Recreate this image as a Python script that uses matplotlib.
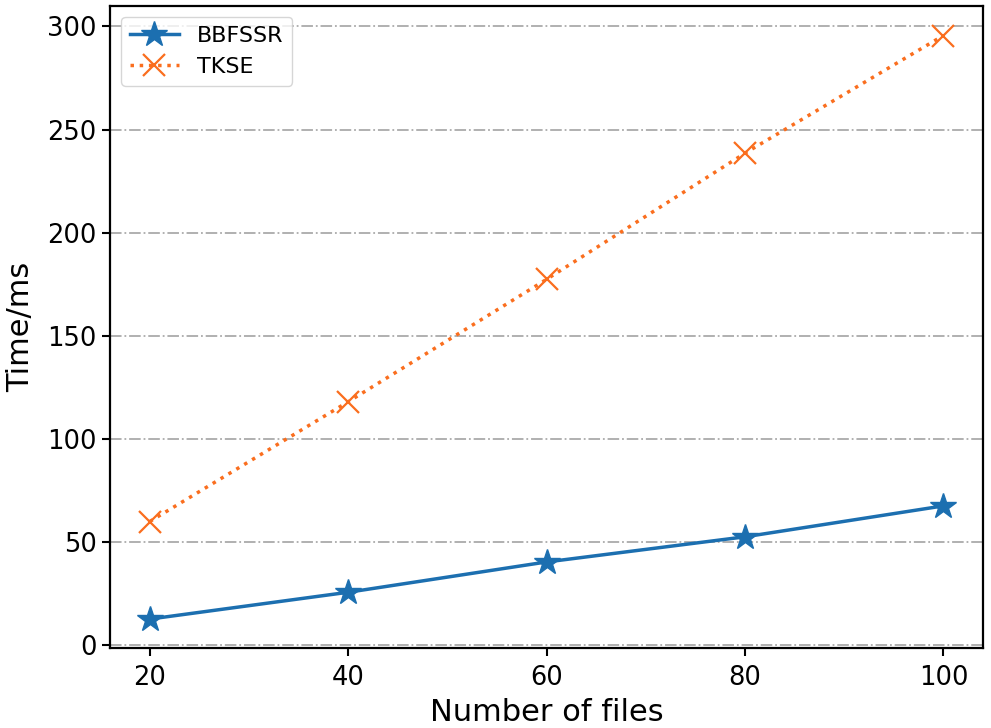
import matplotlib

matplotlib.use("Agg")

import matplotlib.pyplot as plt  # noqa: E402

# ---------- Data ----------

NUM_FILES = [20, 40, 60, 80, 100]
BBFSSR_MS = [12.5, 25.5, 40.2, 52.4, 67.4]
TKSE_MS = [59.8, 117.9, 177.3, 238.5, 295.6]

BLUE = "#1c6fb0"
ORANGE = "#fa6e1e"


def main() -> None:
    fig = plt.figure(figsize=(9.91, 7.28), dpi=100)
    ax = fig.add_axes([0.111, 0.110, 0.881, 0.882])

    ax.plot(NUM_FILES, BBFSSR_MS, color=BLUE, linestyle="-", linewidth=2.5,
            marker="*", markersize=19, label="BBFSSR")
    ax.plot(NUM_FILES, TKSE_MS, color=ORANGE, linestyle=":", linewidth=2.5,
            marker="x", markersize=16, markeredgewidth=1.6, label="TKSE")

    ax.set_xticks(NUM_FILES)
    ax.set_yticks([0, 50, 100, 150, 200, 250, 300])
    ax.set_ylim(-1.5, 310)
    ax.tick_params(labelsize=18.5, width=1.5, length=6)
    ax.tick_params(axis="x", pad=6)
    ax.set_xlabel("Number of files", fontsize=22, labelpad=5)
    ax.set_ylabel("Time/ms", fontsize=22, labelpad=9)
    ax.grid(axis="y", color="#aaaaaa", linestyle="-.", linewidth=1.3)
    for spine in ax.spines.values():
        spine.set_linewidth(1.6)
    ax.legend(loc="upper left", fontsize=16, handlelength=2.2)

    fig.savefig("out.png", dpi=100)
    plt.close(fig)


if __name__ == "__main__":
    main()
